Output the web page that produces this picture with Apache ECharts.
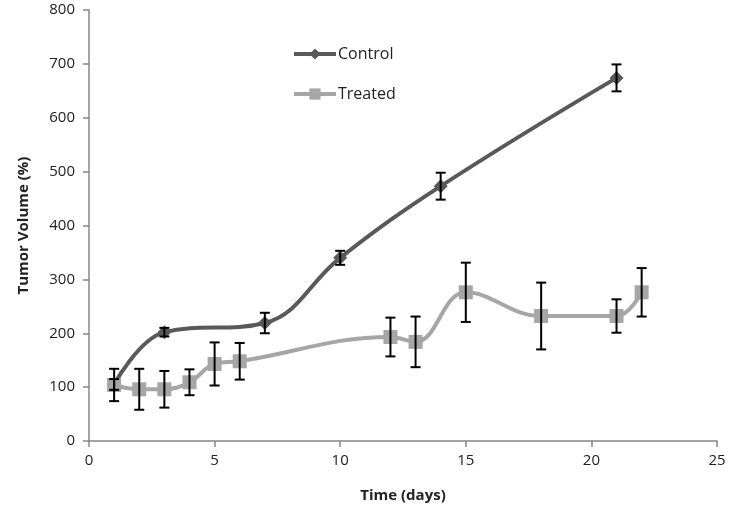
<!DOCTYPE html>
<html><head><meta charset="utf-8">
<script src="https://cdn.jsdelivr.net/npm/echarts@6/dist/echarts.min.js"></script>
<style>html,body{margin:0;padding:0;background:#fff}#c{width:743px;height:513px}</style>
</head><body><div id="c"></div>
<script>
const controlDays = [1, 3, 7, 10, 14, 21];
const controlMean = [105, 202, 219, 340, 473, 674];
const controlErr  = [10, 8, 19, 13, 25, 25];
const treatedDays = [1, 2, 3, 4, 5, 6, 12, 13, 15, 18, 21, 22];
const treatedMean = [104, 96, 96, 109, 143, 148, 193, 184, 276, 232, 232, 276];
const treatedErr  = [30, 38, 34, 24, 40, 34, 36, 47, 55, 62, 31, 45];
const xTicks = [0, 5, 10, 15, 20, 25];
const yTicks = [0, 100, 200, 300, 400, 500, 600, 700, 800];

const chart = echarts.init(document.getElementById('c'));
const font = 'Open Sans';
function errData(days, mean, err){ return days.map((d,i)=>[d, mean[i]-err[i], mean[i]+err[i]]); }
function errSeries(name, data){
  return {
    type:'custom', name:name, z:5, silent:true,
    renderItem:function(params, api){
      const x = api.value(0);
      const lo = api.coord([x, api.value(1)]);
      const hi = api.coord([x, api.value(2)]);
      const w = 5;
      const st = {stroke:'#000', lineWidth:2};
      return {type:'group', children:[
        {type:'line', shape:{x1:lo[0],y1:lo[1],x2:hi[0],y2:hi[1]}, style:st},
        {type:'line', shape:{x1:lo[0]-w,y1:lo[1],x2:lo[0]+w,y2:lo[1]}, style:st},
        {type:'line', shape:{x1:hi[0]-w,y1:hi[1],x2:hi[0]+w,y2:hi[1]}, style:st}
      ]};
    },
    data:data
  };
}
chart.setOption({
  animation:false,
  backgroundColor:'#fff',
  grid:{left:89, right:26, top:10, bottom:72, containLabel:false},
  legend:{
    orient:'vertical', left:287, top:41, itemGap:24, itemWidth:42, itemHeight:14,
    data:['Control','Treated'],
    lineStyle:{width:4},
    textStyle:{fontFamily:font, fontSize:16, color:'#222', padding:[0,0,0,-3]}
  },
  xAxis:{
    type:'value', min:0, max:25, interval:5,
    name:'Time (days)', nameLocation:'middle', nameGap:47,
    nameTextStyle:{fontFamily:font, fontSize:15, fontWeight:'bold', color:'#222'},
    axisLine:{lineStyle:{color:'#868686', width:1.5}},
    axisTick:{show:true, inside:false, length:6, lineStyle:{color:'#868686', width:1.5}},
    axisLabel:{fontFamily:font, fontSize:15, color:'#222', margin:12},
    splitLine:{show:false}
  },
  yAxis:{
    type:'value', min:0, max:800, interval:100,
    name:'Tumor Volume (%)', nameLocation:'middle', nameGap:58, nameRotate:90,
    nameTextStyle:{fontFamily:font, fontSize:15, fontWeight:'bold', color:'#222'},
    axisLine:{show:true, lineStyle:{color:'#868686', width:1.5}},
    axisTick:{show:true, inside:false, length:6, lineStyle:{color:'#868686', width:1.5}},
    axisLabel:{fontFamily:font, fontSize:15, color:'#222', margin:14},
    splitLine:{show:false}
  },
  series:[
    {
      name:'Control', type:'line', smooth:0.4, z:3,
      data:controlDays.map((d,i)=>[d, controlMean[i]]),
      symbol:'diamond', symbolSize:14,
      lineStyle:{color:'#595959', width:4},
      itemStyle:{color:'#595959'}
    },
    {
      name:'Treated', type:'line', smooth:0.4, z:4,
      data:treatedDays.map((d,i)=>[d, treatedMean[i]]),
      symbol:'rect', symbolSize:14,
      lineStyle:{color:'#a6a6a6', width:4},
      itemStyle:{color:'#a6a6a6'}
    },
    errSeries('ctrlErr', errData(controlDays, controlMean, controlErr)),
    errSeries('trtErr', errData(treatedDays, treatedMean, treatedErr))
  ]
});
</script></body></html>
